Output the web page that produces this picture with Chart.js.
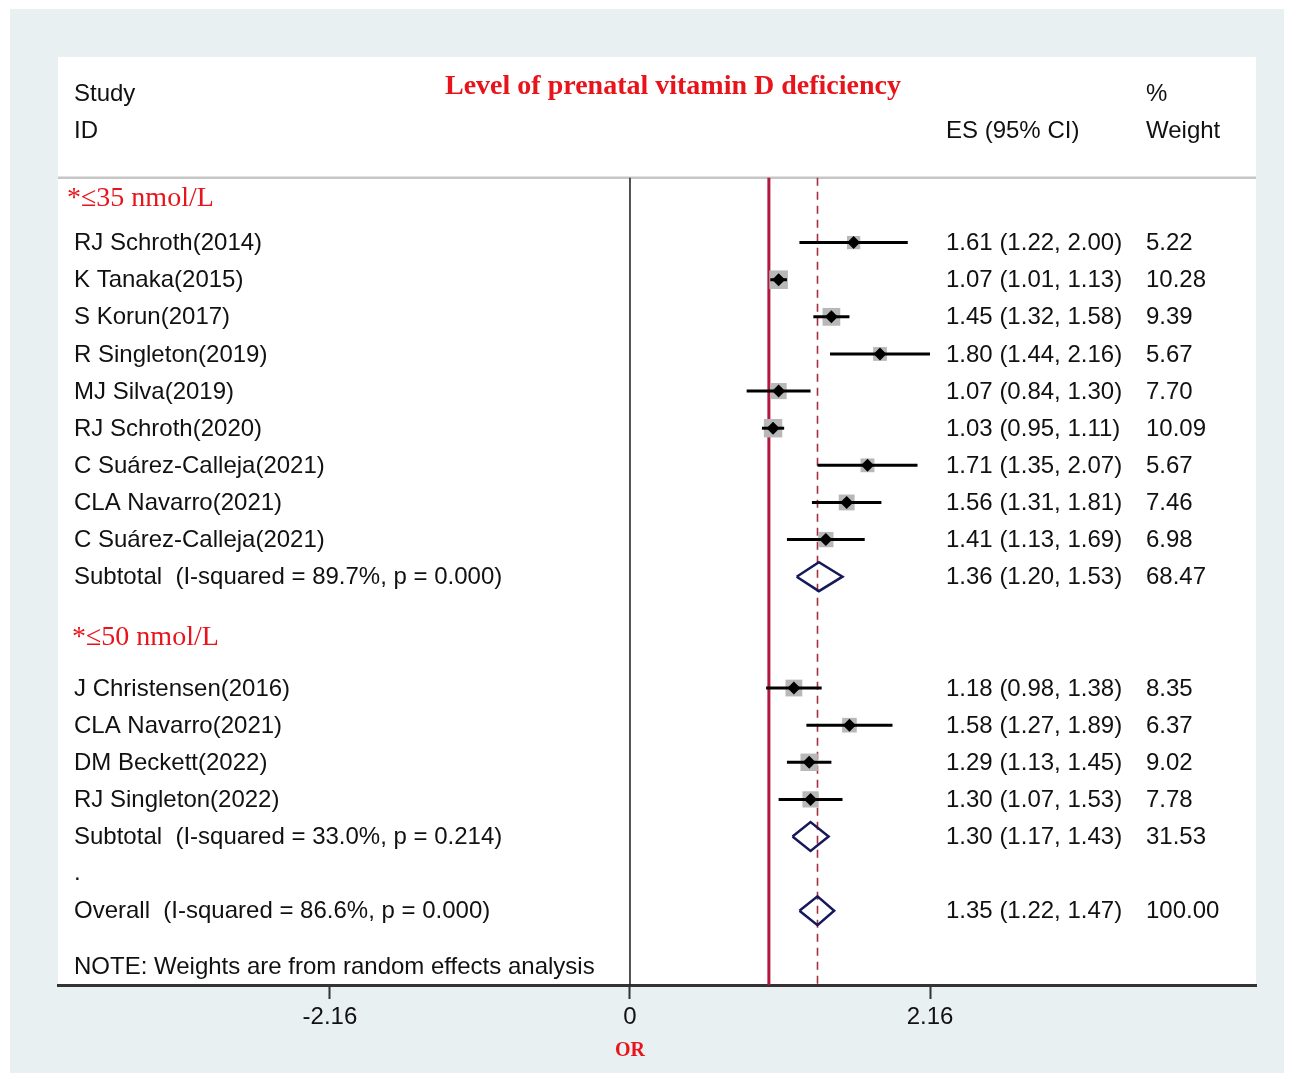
<!DOCTYPE html>
<html>
<head>
<meta charset="utf-8">
<script src="https://cdn.jsdelivr.net/npm/chart.js@4.4.1/dist/chart.umd.min.js"></script>
<style>
  html, body { margin: 0; padding: 0; background: #fff; }
  #wrap { width: 1290px; height: 1081px; }
</style>
</head>
<body>
<div id="wrap"><canvas id="forestChart" width="1290" height="1081"></canvas></div>
<script>
// ---- data ----
const groupNames = ['*≤35 nmol/L', '*≤50 nmol/L'];

const studies1 = ['RJ Schroth(2014)', 'K Tanaka(2015)', 'S Korun(2017)', 'R Singleton(2019)', 'MJ Silva(2019)',
                  'RJ Schroth(2020)', 'C Suárez-Calleja(2021)', 'CLA Navarro(2021)', 'C Suárez-Calleja(2021)'];
const es1 = [1.61, 1.07, 1.45, 1.80, 1.07, 1.03, 1.71, 1.56, 1.41];
const lo1 = [1.22, 1.01, 1.32, 1.44, 0.84, 0.95, 1.35, 1.31, 1.13];
const hi1 = [2.00, 1.13, 1.58, 2.16, 1.30, 1.11, 2.07, 1.81, 1.69];
const wt1 = [5.22, 10.28, 9.39, 5.67, 7.70, 10.09, 5.67, 7.46, 6.98];

const studies2 = ['J Christensen(2016)', 'CLA Navarro(2021)', 'DM Beckett(2022)', 'RJ Singleton(2022)'];
const es2 = [1.18, 1.58, 1.29, 1.30];
const lo2 = [0.98, 1.27, 1.13, 1.07];
const hi2 = [1.38, 1.89, 1.45, 1.53];
const wt2 = [8.35, 6.37, 9.02, 7.78];

const summaryLabels = ['Subtotal  (I-squared = 89.7%, p = 0.000)', 'Subtotal  (I-squared = 33.0%, p = 0.214)',
                       'Overall  (I-squared = 86.6%, p = 0.000)'];
const summaryES = [1.36, 1.30, 1.35];
const summaryLo = [1.20, 1.17, 1.22];
const summaryHi = [1.53, 1.43, 1.47];
const summaryWt = [68.47, 31.53, 100.00];

const xTicks = [-2.16, 0, 2.16];
const nullLine = 1;

// ---- layout ----
const X_MIN = -4.118, X_MAX = 4.507;
const Y_TOP = -4, Y_BOT = 21, SEP_ROW = -0.75;
const groupHeaderRows = [-0.19, 11.65];
const SANS = '"Liberation Sans", Arial, sans-serif';
const SERIF = '"Liberation Serif", "Times New Roman", serif';
const fmt = v => v.toFixed(2);

// rows: header, studies, subtotal, blank ... then '.' and overall
const rows = [];
let r = 1;
studies1.forEach((s, i) => rows.push({ kind: 'study', label: s, es: es1[i], lo: lo1[i], hi: hi1[i], w: wt1[i], row: r++ }));
rows.push({ kind: 'sum', label: summaryLabels[0], es: summaryES[0], lo: summaryLo[0], hi: summaryHi[0], w: summaryWt[0], row: r++ });
r += 2;
studies2.forEach((s, i) => rows.push({ kind: 'study', label: s, es: es2[i], lo: lo2[i], hi: hi2[i], w: wt2[i], row: r++ }));
rows.push({ kind: 'sum', label: summaryLabels[1], es: summaryES[1], lo: summaryLo[1], hi: summaryHi[1], w: summaryWt[1], row: r++ });
const dotRow = r++;
rows.push({ kind: 'sum', label: summaryLabels[2], es: summaryES[2], lo: summaryLo[2], hi: summaryHi[2], w: summaryWt[2], row: r++ });
const noteRow = r + 0.5;

const studyRows = rows.filter(d => d.kind === 'study');
const sumRows = rows.filter(d => d.kind === 'sum');

function seg(pts, color, width, dash, order) {
    return { data: pts, showLine: true, borderColor: color, borderWidth: width, borderDash: dash || [],
             pointRadius: 0, order: order, borderCapStyle: 'butt' };
}

const datasets = [];
datasets.push(seg([{ x: X_MIN, y: SEP_ROW }, { x: X_MAX, y: SEP_ROW }], '#c6c6c6', 2.5, null, 9));
datasets.push(seg([{ x: 0, y: SEP_ROW }, { x: 0, y: Y_BOT }], '#1a1a1a', 1.5, null, 8));
datasets.push(seg([{ x: nullLine, y: SEP_ROW }, { x: nullLine, y: Y_BOT }], '#b2173d', 3, null, 8));
datasets.push(seg([{ x: summaryES[2], y: SEP_ROW }, { x: summaryES[2], y: Y_BOT }], '#a3303f', 1.6, [8, 6], 8));

// weight boxes
datasets.push({
    data: studyRows.map(d => ({ x: d.es, y: d.row })),
    pointStyle: 'rect',
    pointRadius: studyRows.map(d => 5.8 * Math.sqrt(d.w) / Math.SQRT2),
    backgroundColor: '#b8b8b8', borderWidth: 0, order: 5
});
// confidence intervals
studyRows.forEach(d => datasets.push(seg([{ x: d.lo, y: d.row }, { x: d.hi, y: d.row }], '#000', 3, null, 4)));
// point estimates
datasets.push({
    data: studyRows.map(d => ({ x: d.es, y: d.row })),
    pointStyle: 'rectRot', pointRadius: 6.5,
    backgroundColor: '#000', borderWidth: 0, order: 2
});
// pooled diamonds
sumRows.forEach(d => {
    const h = 0.39;
    datasets.push(Object.assign(seg([
        { x: d.lo, y: d.row }, { x: d.es, y: d.row - h }, { x: d.hi, y: d.row },
        { x: d.es, y: d.row + h }, { x: d.lo, y: d.row }
    ], '#15195c', 2.5, null, 1), { tension: 0, borderJoinStyle: 'miter' }));
});

const backdrop = {
    id: 'backdrop',
    beforeDraw(chart) {
        const { ctx, chartArea: ca } = chart;
        ctx.save();
        ctx.fillStyle = '#fff';
        ctx.fillRect(0, 0, chart.width, chart.height);
        ctx.fillStyle = '#e9f0f2';
        ctx.fillRect(10, 9, 1274, 1064);
        ctx.fillStyle = '#fff';
        ctx.fillRect(ca.left, ca.top, ca.right - ca.left, ca.bottom - ca.top);
        ctx.restore();
    }
};

const tableText = {
    id: 'tableText',
    afterDraw(chart) {
        const { ctx, chartArea: ca } = chart;
        const yS = chart.scales.y, xS = chart.scales.x;
        const labelX = ca.left + 16, esX = ca.left + 888, wX = ca.left + 1088;
        ctx.save();
        ctx.textBaseline = 'middle';

        // title
        ctx.fillStyle = '#e8141c';
        ctx.font = 'bold 28px ' + SERIF;
        ctx.textAlign = 'center';
        ctx.fillText('Level of prenatal vitamin D deficiency', ca.left + 615, yS.getPixelForValue(-3.2));

        // axis title, centred on zero
        ctx.font = 'bold 20px ' + SERIF;
        ctx.fillText('OR', xS.getPixelForValue(0), ca.bottom + 66);

        // column headers
        ctx.textAlign = 'left';
        ctx.fillStyle = '#111';
        ctx.font = '24px ' + SANS;
        ctx.fillText('Study', labelX, yS.getPixelForValue(-3));
        ctx.fillText('ID', labelX, yS.getPixelForValue(-2));
        ctx.fillText('ES (95% CI)', esX, yS.getPixelForValue(-2));
        ctx.fillText('%', wX, yS.getPixelForValue(-3));
        ctx.fillText('Weight', wX, yS.getPixelForValue(-2));

        // group headers
        ctx.fillStyle = '#e8141c';
        ctx.font = '28px ' + SERIF;
        ctx.fillText(groupNames[0], ca.left + 9, yS.getPixelForValue(groupHeaderRows[0]));
        ctx.fillText(groupNames[1], ca.left + 14, yS.getPixelForValue(groupHeaderRows[1]));

        // rows
        ctx.fillStyle = '#111';
        ctx.font = '24px ' + SANS;
        rows.forEach(d => {
            const y = yS.getPixelForValue(d.row) + 1;
            ctx.fillText(d.label, labelX, y);
            ctx.fillText(fmt(d.es) + ' (' + fmt(d.lo) + ', ' + fmt(d.hi) + ')', esX, y);
            ctx.fillText(fmt(d.w), wX, y);
        });
        ctx.fillText('.', labelX, yS.getPixelForValue(dotRow));
        ctx.fillText('NOTE: Weights are from random effects analysis', labelX, yS.getPixelForValue(noteRow) + 1);
        ctx.restore();
    }
};

new Chart(document.getElementById('forestChart').getContext('2d'), {
    type: 'scatter',
    data: { datasets: datasets },
    options: {
        responsive: false,
        animation: false,
        devicePixelRatio: 1,
        layout: { padding: { left: 58, right: 34, top: 57, bottom: 0 } },
        plugins: { legend: { display: false }, tooltip: { enabled: false } },
        scales: {
            x: {
                type: 'linear', position: 'bottom', min: X_MIN, max: X_MAX,
                afterBuildTicks: s => { s.ticks = xTicks.map(v => ({ value: v })); },
                afterFit: s => { s.height = 96; },
                ticks: {
                    callback: v => (v === 0 ? '0' : v.toFixed(2)),
                    font: { family: SANS, size: 24 }, color: '#111',
                    maxRotation: 0, autoSkip: false, padding: 4
                },
                grid: { drawOnChartArea: false, tickLength: 14, tickColor: '#333', tickWidth: 2 },
                border: { display: true, color: '#333', width: 3 }
            },
            y: { type: 'linear', display: false, min: Y_TOP, max: Y_BOT, reverse: true }
        }
    },
    plugins: [backdrop, tableText]
});
</script>
</body>
</html>
